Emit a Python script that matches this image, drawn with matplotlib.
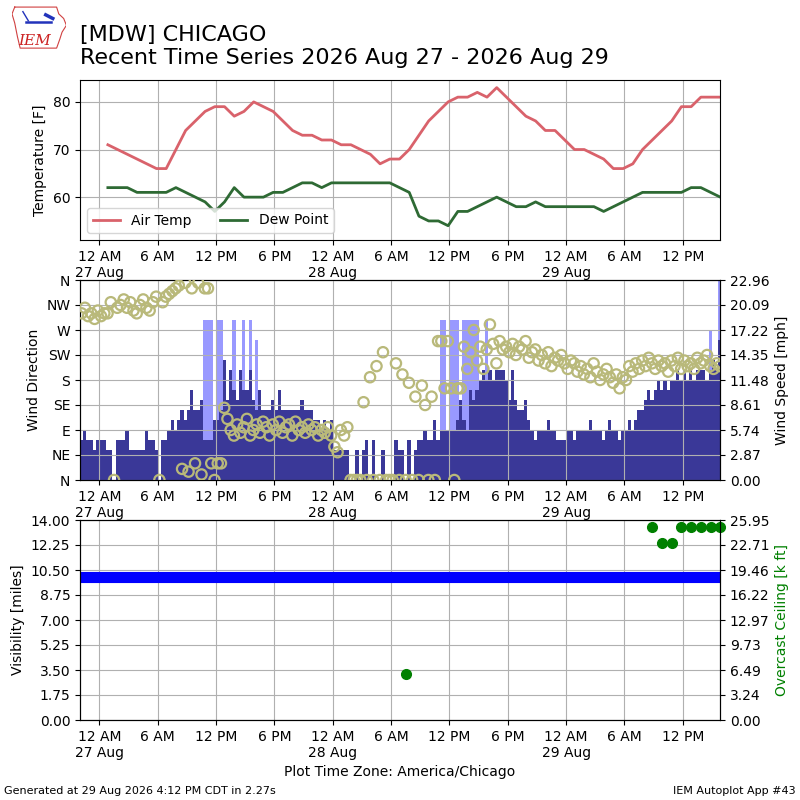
import numpy as np
import pandas as pd
import matplotlib
matplotlib.use('Agg')
import matplotlib.pyplot as plt
import matplotlib.dates as mdates
from matplotlib.ticker import FuncFormatter

# hourly obs (xx:52) starting 27 Aug 00:52
air_temp = [71, 70, 69, 68, 67, 66, 66, 70, 74, 76, 78, 79,
            79, 77, 78, 80, 79, 78, 76, 74, 73, 73, 72, 72,
            71, 71, 70, 69, 67, 68, 68, 70, 73, 76, 78, 80,
            81, 81, 82, 81, 83, 81, 79, 77, 76, 74, 74, 72,
            70, 70, 69, 68, 66, 66, 67, 70, 72, 74, 76, 79,
            79, 81, 81, 81]
dew_point = [62, 62, 62, 61, 61, 61, 61, 62, 61, 60, 59, 57,
             59, 62, 60, 60, 60, 61, 61, 62, 63, 63, 62, 63,
             63, 63, 63, 63, 63, 63, 62, 61, 56, 55, 55, 54,
             57, 57, 58, 59, 60, 59, 58, 58, 59, 58, 58, 58,
             58, 58, 58, 57, 58, 59, 60, 61, 61, 61, 61, 61,
             62, 62, 61, 60]

# 20 minute wind obs starting 26 Aug 22:00, knots
wind_kt = [4, 5, 4, 4, 3, 4,
           4, 4, 3, 3, 0, 4, 4, 4, 5, 3, 3, 3, 3, 3, 5, 4, 4, 3,
           0, 4, 4, 5, 6, 5, 6, 7, 6, 7, 9, 7, 7, 8, 4, 4, 4, 6,
           6, 7, 12, 8, 11, 9, 8, 11, 9, 9, 11, 8, 7, 9, 7, 7, 7, 8,
           7, 9, 7, 7, 7, 7, 7, 7, 8, 7, 7, 7, 6, 6, 5, 6, 5, 6,
           3, 3, 3, 3, 3, 0, 0, 3, 0, 3, 4, 0, 4, 0, 0, 3, 0, 0,
           0, 4, 3, 3, 0, 4, 0, 3, 4, 4, 5, 4, 4, 6, 4, 5, 5, 5,
           5, 5, 6, 8, 6, 5, 9, 8, 9, 10, 11, 10, 11, 10, 11, 11, 11, 10,
           8, 11, 8, 7, 7, 8, 6, 5, 4, 5, 5, 5, 6, 5, 5, 4, 4, 4,
           5, 5, 4, 5, 5, 5, 5, 6, 5, 5, 5, 4, 5, 6, 5, 5, 4, 5,
           5, 6, 5, 6, 7, 7, 8, 9, 8, 9, 10, 9, 10, 9, 10, 10, 11, 10,
           11, 10, 11, 10, 11, 11, 11, 10, 11, 12, 11, 14]
wind_dir = [300, 310, 295, 300, 290, 305,
            295, 300, 300, 320, 0, 310, 315, 325, 310, 320, 305, 300,
            315, 325, 310, 305, 320, 330,
            0, 320, 330, 335, 340, 345, 350, 20, 355, 15, 345, 30,
            355, 10, 345, 345, 30, 0,
            30, 30, 130, 110, 90, 80, 100, 85, 95, 110, 80, 90,
            100, 85, 105, 95, 80, 100, 90, 105, 85, 95, 100, 80,
            105, 90, 95, 85, 100, 90, 95, 80, 90, 85, 95, 80,
            60, 50, 90, 80, 95, 0, 0, 0, 0, 140, 0, 185,
            0, 205, 0, 230, 0, 0, 0, 210, 0, 190, 0, 175,
            0, 150, 0, 170, 135, 0, 150, 0, 250, 250, 165, 250,
            165, 0, 165, 165, 240, 200, 230, 270, 215, 240, 200, 235,
            280, 245, 210, 250, 235, 240, 230, 245, 225, 240, 235, 250,
            220, 230, 235, 215, 225, 210, 230, 205, 220, 215, 225, 210,
            200, 215, 210, 195, 205, 190, 200, 185, 210, 195, 180, 190,
            200, 185, 175, 190, 165, 185, 180, 205, 195, 210, 200, 215,
            205, 220, 210, 200, 215, 205, 210, 195, 215, 205, 220, 200,
            215, 205, 210, 200, 220, 210, 215, 225, 205, 200, 210, 205]

gust_times = ['2026-08-27 10:40', '2026-08-27 11:00', '2026-08-27 11:20',
              '2026-08-27 12:00', '2026-08-27 12:20', '2026-08-27 13:40',
              '2026-08-27 14:40', '2026-08-27 15:20', '2026-08-27 16:00',
              '2026-08-28 11:00', '2026-08-28 11:20', '2026-08-28 12:00',
              '2026-08-28 12:20', '2026-08-28 12:40', '2026-08-28 13:20',
              '2026-08-28 13:40', '2026-08-28 14:00', '2026-08-28 14:20',
              '2026-08-28 14:40', '2026-08-28 15:40',
              '2026-08-29 14:40', '2026-08-29 15:40']
gust_kt = [16, 16, 16, 16, 16, 16, 16, 16, 14,
           16, 16, 16, 16, 16, 16, 16, 16, 16, 16, 16,
           15, 20]

vis_miles = [10.0, 10.0, 10.0, 10.0, 10.0, 10.0, 10.0, 10.0, 10.0, 10.0, 10.0, 10.0,
             10.0, 10.0, 10.0, 10.0, 10.0, 10.0, 10.0, 10.0, 10.0, 10.0, 10.0, 10.0,
             10.0, 10.0, 10.0, 10.0, 10.0, 10.0, 10.0, 10.0, 10.0, 10.0, 10.0, 10.0,
             10.0, 10.0, 10.0, 10.0, 10.0, 10.0, 10.0, 10.0, 10.0, 10.0, 10.0, 10.0,
             10.0, 10.0, 10.0, 10.0, 10.0, 10.0, 10.0, 10.0, 10.0, 10.0, 10.0, 10.0,
             10.0, 10.0, 10.0, 10.0, 10.0, 10.0, 10.0]

ceil_times = ['2026-08-28 07:30', '2026-08-29 08:52', '2026-08-29 09:52',
              '2026-08-29 10:52', '2026-08-29 11:52', '2026-08-29 12:52',
              '2026-08-29 13:52', '2026-08-29 14:52', '2026-08-29 15:52']
ceil_kft = [6.0, 25.0, 23.0, 23.0, 25.0, 25.0, 25.0, 25.0, 25.0]

KT2MPH = 1.15078
temp_times = pd.date_range('2026-08-27 00:52', periods=len(air_temp), freq='h')
wind_times = pd.date_range('2026-08-26 22:00', periods=len(wind_kt), freq='20min')
vis_times = pd.date_range('2026-08-26 22:00', periods=len(vis_miles), freq='h')
xmin = pd.Timestamp('2026-08-26 22:00')
xmax = pd.Timestamp('2026-08-29 15:50')


def fmt_time(x, pos=None):
    d = mdates.num2date(x)
    if d.hour == 0:
        return "12 AM\n" + d.strftime('%d %b')
    h = d.hour % 12
    if h == 0:
        h = 12
    return "%d %s" % (h, 'AM' if d.hour < 12 else 'PM')


def setup_x(ax):
    ax.set_xlim(xmin, xmax)
    ax.xaxis.set_major_locator(mdates.HourLocator(byhour=[0, 6, 12, 18]))
    ax.xaxis.set_major_formatter(FuncFormatter(fmt_time))
    ax.grid(True, color='#b0b0b0')


fig = plt.figure(figsize=(8, 8), dpi=100)

fig.text(0.1, 0.915, "[MDW] CHICAGO\nRecent Time Series 2026 Aug 27 - 2026 Aug 29",
         fontsize=16, ha='left', va='bottom')

# little IEM logo
logo = fig.add_axes([0.015, 0.937, 0.068, 0.057])
logo.axis('off')
logo.set_xlim(0, 1)
logo.set_ylim(0, 1)
outline_x = [0.05, 0.82, 0.86, 0.95, 1.0, 0.92, 0.88, 0.82, 0.15, 0.10, 0.05, 0.0, 0.05]
outline_y = [0.95, 0.95, 0.80, 0.70, 0.55, 0.40, 0.25, 0.05, 0.05, 0.30, 0.60, 0.80, 0.95]
logo.plot(outline_x, outline_y, color='#d04040', lw=0.8)
logo.plot([0.25, 0.72], [0.62, 0.62], color='#2233bb', lw=1.8)
logo.plot([0.62, 0.75], [0.78, 0.70], color='#2233bb', lw=2.5)
logo.plot([0.2, 0.3], [0.85, 0.65], color='#2233bb', lw=1)
logo.text(0.12, 0.12, "IEM", color='#cc2222', fontsize=11, style='italic',
          family='serif')

# temperature
ax1 = fig.add_axes([0.1, 0.7, 0.8, 0.2])
ax1.plot(temp_times, air_temp, color='#d9626b', lw=2, label='Air Temp')
ax1.plot(temp_times, dew_point, color='#2e6a34', lw=2, label='Dew Point')
ax1.set_ylim(51, 84.6)
ax1.set_yticks([60, 70, 80])
ax1.set_ylabel('Temperature [F]')
setup_x(ax1)
ax1.legend(loc='lower left', ncol=2)

# wind
ax2 = fig.add_axes([0.1, 0.4, 0.8, 0.25])
ax2b = ax2.twinx()
width = 20.0 / 1440.0
ax2b.bar(pd.to_datetime(gust_times), np.array(gust_kt) * KT2MPH, width=width,
         align='edge', color='#9999ff', linewidth=0)
ax2b.bar(wind_times, np.array(wind_kt) * KT2MPH, width=width, align='edge',
         color='#3a3898', linewidth=0)
ax2b.set_ylim(0, 22.96)
ax2b.set_yticks(np.linspace(0, 22.96, 9))
ax2b.yaxis.set_major_formatter(FuncFormatter(lambda v, p: "%.2f" % v))
ax2b.set_ylabel('Wind Speed [mph]')
ax2.set_zorder(ax2b.get_zorder() + 1)
ax2.patch.set_visible(False)
ax2.scatter(wind_times + pd.Timedelta(minutes=10), wind_dir, s=55,
            facecolors='none', edgecolors='#b9b97a', linewidths=1.6, zorder=3)
ax2.set_ylim(0, 360)
ax2.set_yticks(range(0, 361, 45))
ax2.set_yticklabels(['N', 'NE', 'E', 'SE', 'S', 'SW', 'W', 'NW', 'N'])
ax2.set_ylabel('Wind Direction')
setup_x(ax2)

# visibility / ceiling
ax3 = fig.add_axes([0.1, 0.1, 0.8, 0.25])
ax3.plot(vis_times, vis_miles, color='blue', lw=8, solid_capstyle='butt')
ax3.set_ylim(0, 14)
ax3.set_yticks(np.arange(0, 14.01, 1.75))
ax3.yaxis.set_major_formatter(FuncFormatter(lambda v, p: "%.2f" % v))
ax3.set_ylabel('Visibility [miles]')
setup_x(ax3)
ax3b = ax3.twinx()
ax3b.plot(pd.to_datetime(ceil_times), ceil_kft, 'o', color='green', ms=7,
          clip_on=False)
ax3b.set_ylim(0, 25.95)
ax3b.set_yticks(np.linspace(0, 25.95, 9))
ax3b.yaxis.set_major_formatter(FuncFormatter(lambda v, p: "%.2f" % v))
ax3b.set_ylabel('Overcast Ceiling [k ft]', color='green')
ax3.set_xlabel('Plot Time Zone: America/Chicago')

fig.text(0.005, 0.008, "Generated at 29 Aug 2026 4:12 PM CDT in 2.27s", fontsize=8)
fig.text(0.995, 0.008, "IEM Autoplot App #43", fontsize=8, ha='right')

fig.savefig('out.png', dpi=100)
